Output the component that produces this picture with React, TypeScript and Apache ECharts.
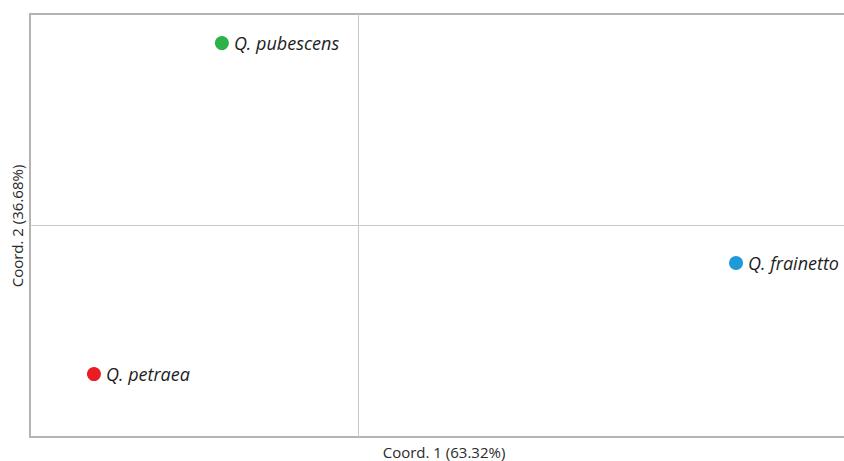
import React, { useEffect, useRef } from "react";
import * as echarts from "echarts";

// Ordination scores (PCoA) for three oak species
const species = ["Q. pubescens", "Q. frainetto", "Q. petraea"];
const coord1 = [-0.166, 0.461, -0.322];
const coord2 = [0.345, -0.071, -0.281];
const colors = ["#2db24a", "#1f9ad8", "#ea1c24"];
const xName = "Coord. 1 (63.32%)";
const yName = "Coord. 2 (36.68%)";

const FONT = "Open Sans";

export default function App() {
  const ref = useRef<HTMLDivElement>(null);

  useEffect(() => {
    if (!ref.current) return;
    const chart = echarts.init(ref.current, undefined, { renderer: "svg" });
    const data = species.map((name, i) => ({
      name,
      value: [coord1[i], coord2[i]],
      itemStyle: { color: colors[i], opacity: 1 },
    }));
    chart.setOption({
      animation: false,
      backgroundColor: "#ffffff",
      grid: {
        left: 30,
        top: 14,
        width: 820,
        height: 423,
        outerBoundsMode: "none",
        containLabel: false,
        show: true,
        borderColor: "#b4b4b4",
        borderWidth: 2,
      },
      xAxis: {
        type: "value",
        min: -0.4,
        max: 0.6,
        axisLine: { show: false },
        axisTick: { show: false },
        axisLabel: { show: false },
        splitLine: { show: false },
      },
      yAxis: {
        type: "value",
        min: -0.4,
        max: 0.4,
        axisLine: { show: false },
        axisTick: { show: false },
        axisLabel: { show: false },
        splitLine: { show: false },
      },
      graphic: [
        {
          type: "text",
          x: 444,
          y: 452,
          style: {
            text: xName,
            fontFamily: FONT,
            fontSize: 15,
            lineHeight: 16,
            fill: "#2a2a2a",
            align: "center",
            verticalAlign: "middle",
          },
        },
        {
          type: "text",
          x: 17,
          y: 226,
          rotation: Math.PI / 2,
          style: {
            text: yName,
            fontFamily: FONT,
            fontSize: 15,
            lineHeight: 16,
            fill: "#2a2a2a",
            align: "center",
            verticalAlign: "middle",
          },
        },
      ],
      series: [
        {
          type: "scatter",
          symbolSize: 14,
          data,
          label: {
            show: true,
            position: "right",
            distance: 5,
            formatter: "{b}",
            fontFamily: FONT,
            fontStyle: "italic",
            fontSize: 18,
            color: "#1e1e1e",
          },
          markLine: {
            silent: true,
            symbol: "none",
            label: { show: false },
            lineStyle: { color: "#c8c8c8", width: 1, type: "solid" },
            data: [{ xAxis: 0 }, { yAxis: 0 }],
          },
          z: 3,
        },
      ],
    });
    return () => chart.dispose();
  }, []);

  return (
    <div
      ref={ref}
      style={{ position: "fixed", left: 0, top: 0, width: 844, height: 461 }}
    />
  );
}
